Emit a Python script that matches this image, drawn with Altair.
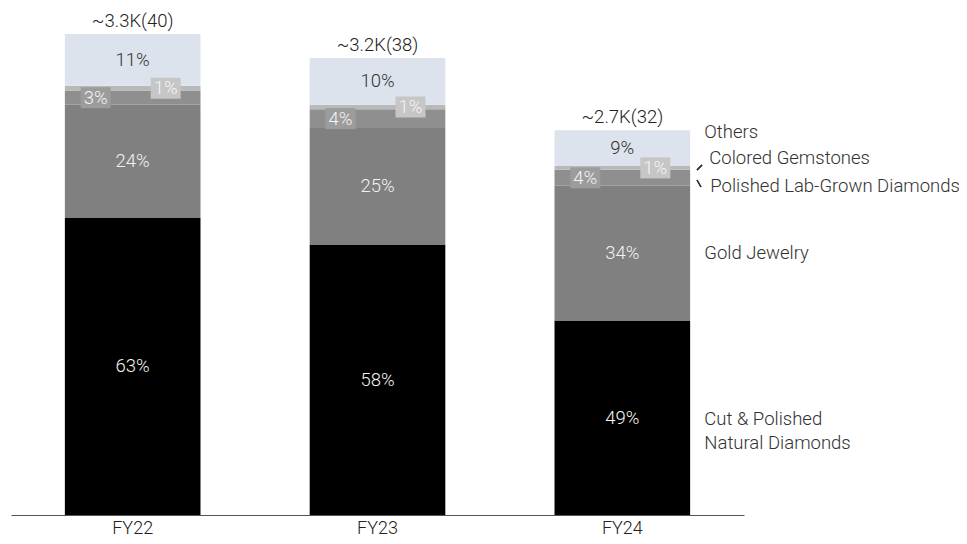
import altair as alt
import pandas as pd

years = ["FY22", "FY23", "FY24"]
totals = [40, 38, 32]
top_labels = ["~3.3K(40)", "~3.2K(38)", "~2.7K(32)"]
categories = [
    "Cut & Polished Natural Diamonds",
    "Gold Jewelry",
    "Polished Lab-Grown Diamonds",
    "Colored Gemstones",
    "Others",
]
pct_natural = [63, 58, 49]
pct_gold = [24, 25, 34]
pct_lab = [3, 4, 4]
pct_colored = [1, 1, 1]
pct_others = [11, 10, 9]

colors = ["#000000", "#808080", "#8f8f8f", "#b9b9b9", "#dde3ed"]
FONT = "Roboto Light, Roboto"
FS = 18.5

pct_lists = [pct_natural, pct_gold, pct_lab, pct_colored, pct_others]
rows = []
for i, yr in enumerate(years):
    s = sum(p[i] for p in pct_lists)
    cum = 0.0
    for j, cat in enumerate(categories):
        v = totals[i] * pct_lists[j][i] / s
        rows.append(dict(Year=yr, cat=cat, order=j, pct=f"{pct_lists[j][i]}%",
                         y0=cum, y1=cum + v, ymid=cum + v / 2,
                         tcolor="#333333" if cat == "Others" else "#f2f2f2"))
        cum += v
df = pd.DataFrame(rows)
tops = pd.DataFrame({"Year": years, "total": totals, "label": top_labels})

x_enc = alt.X("Year:N", sort=years,
              scale=alt.Scale(paddingInner=0.446, paddingOuter=0.22),
              axis=alt.Axis(title=None, labelAngle=0, ticks=False, domainColor="#555555",
                            domainWidth=1.2, labelFont=FONT, labelFontSize=18,
                            labelFontWeight=300, labelColor="#222222", labelPadding=4,
                            grid=False))
y_scale = alt.Scale(domain=[0, 40], nice=False, zero=True)

base = alt.Chart(df)

bars = base.mark_bar().encode(
    x=x_enc,
    y=alt.Y("y0:Q", scale=y_scale, axis=None),
    y2="y1:Q",
    color=alt.Color("cat:N", scale=alt.Scale(domain=categories, range=colors), legend=None),
)

main_txt = base.transform_filter(
    alt.FieldOneOfPredicate(field="cat", oneOf=[categories[0], categories[1], categories[4]])
).mark_text(font=FONT, fontSize=FS, fontWeight=300).encode(
    x=alt.X("Year:N", sort=years),
    y=alt.Y("ymid:Q", scale=y_scale),
    text="pct:N",
    color=alt.Color("tcolor:N", scale=None),
)

box_path = "M-1.5,-1.05L1.5,-1.05L1.5,1.05L-1.5,1.05Z"

def small_label(cat, xoff, boxcolor):
    sub = base.transform_filter(alt.datum.cat == cat)
    box = sub.mark_point(shape=box_path, size=400, filled=True, opacity=1,
                         color=boxcolor, strokeWidth=0, xOffset=xoff).encode(
        x=alt.X("Year:N", sort=years), y=alt.Y("ymid:Q", scale=y_scale))
    txt = sub.mark_text(font=FONT, fontSize=FS, fontWeight=300, color="#f4f4f4",
                        xOffset=xoff).encode(
        x=alt.X("Year:N", sort=years), y=alt.Y("ymid:Q", scale=y_scale), text="pct:N")
    return box + txt

lab_lbl = small_label(categories[2], -37, "#9c9c9c")
col_lbl = small_label(categories[3], 33, "#c6c6c6")

top_txt = alt.Chart(tops).mark_text(font=FONT, fontSize=FS, fontWeight=300, color="#222222",
                                    baseline="bottom", dy=-3).encode(
    x=alt.X("Year:N", sort=years),
    y=alt.Y("total:Q", scale=y_scale),
    text="label:N",
)

right_dy = {categories[0]: 1, categories[1]: 0, categories[2]: 8, categories[3]: -10, categories[4]: -16}
right_dx = {categories[0]: 82, categories[1]: 82, categories[2]: 88, categories[3]: 87, categories[4]: 82}
right_text = {categories[0]: "Cut & Polished\nNatural Diamonds"}
right_layers = []
for cat in categories:
    d = df[(df.Year == "FY24") & (df.cat == cat)].copy()
    d["rlabel"] = right_text.get(cat, cat)
    right_layers.append(
        alt.Chart(d).mark_text(font=FONT, fontSize=FS, fontWeight=300, color="#333333",
                               align="left", xOffset=right_dx[cat], dy=right_dy[cat],
                               lineBreak="\n", lineHeight=24).encode(
            x=alt.X("Year:N", sort=years),
            y=alt.Y("ymid:Q", scale=y_scale),
            text="rlabel:N",
        )
    )

conn1 = alt.Chart(tops).mark_rule(color="#333333", strokeWidth=1.2).encode(
    x=alt.value(686), x2=alt.value(691), y=alt.value(136), y2=alt.value(131))
conn2 = alt.Chart(tops).mark_rule(color="#333333", strokeWidth=1.2).encode(
    x=alt.value(686), x2=alt.value(690), y=alt.value(146), y2=alt.value(153))

chart = alt.layer(bars, main_txt, lab_lbl, col_lbl, top_txt, *right_layers, conn1, conn2).properties(
    width=733, height=481,
    padding={"left": 3, "top": 26, "right": 215, "bottom": 21},
    autosize=alt.AutoSizeParams(type="none"),
).configure(font=FONT).configure_view(strokeWidth=0, stroke="transparent")

chart.save("out.html", embed_options={"renderer": "svg", "actions": False})
